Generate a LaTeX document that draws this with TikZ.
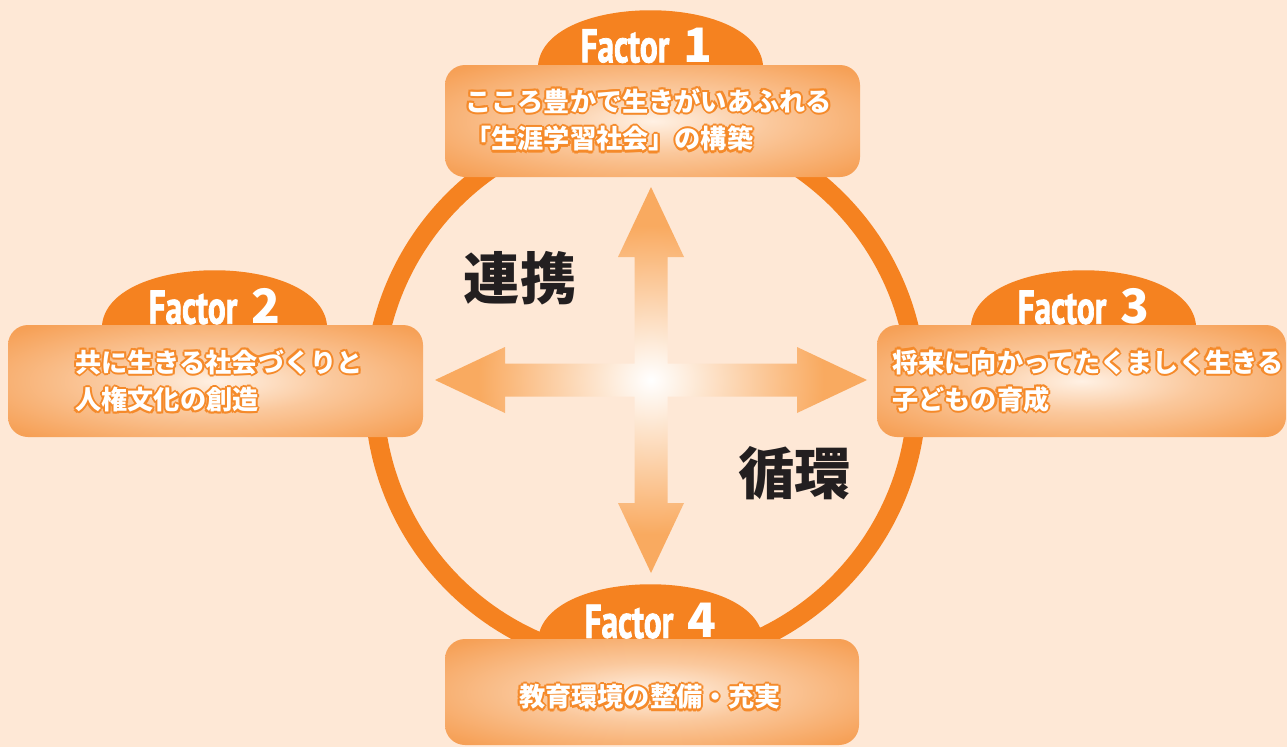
\documentclass[tikz,border=0pt]{standalone}
\usepackage{fontspec}
\newfontfamily\cjk{Noto Sans CJK JP}
\newfontfamily\latinfont{PT Sans}[FakeStretch=0.7, FakeBold=1.5]

\definecolor{paper}{HTML}{FEE8D6}
\definecolor{ringOrange}{HTML}{F58220}
\definecolor{arrowOrange}{HTML}{F9AA60}
\definecolor{boxOrange}{HTML}{F6A056}
\definecolor{boxLight}{HTML}{FFF1E4}
\definecolor{rimOrange}{HTML}{F58A2A}
\definecolor{inkBlack}{HTML}{231F20}
\colorlet{crossMid}{white!85!arrowOrange}
\colorlet{boxMid}{boxLight!50!boxOrange}

\pgfdeclareradialshading{crossglow}{\pgfpoint{0bp}{0bp}}{color(0bp)=(white); color(3bp)=(crossMid); color(20bp)=(arrowOrange); color(50bp)=(arrowOrange)}
\pgfdeclareradialshading{boxglow}{\pgfpoint{0bp}{0bp}}{color(0bp)=(boxLight); color(14bp)=(boxMid); color(33bp)=(boxOrange); color(50bp)=(boxOrange)}

% white text with an orange rim
\newcommand\rimcopy[2]{\rlap{\kern#1\raise#2\hbox{\color{rimOrange}\copy0}}}
\newcommand\rimtext[1]{\setbox0\hbox{#1}%
  \rimcopy{1.2pt}{0pt}\rimcopy{-1.2pt}{0pt}\rimcopy{0pt}{1.2pt}\rimcopy{0pt}{-1.2pt}%
  \rimcopy{.85pt}{.85pt}\rimcopy{-.85pt}{.85pt}\rimcopy{.85pt}{-.85pt}\rimcopy{-.85pt}{-.85pt}\copy0}
\newcommand\factorlabel[1]{{\latinfont\bfseries\fontsize{27}{30}\selectfont Factor}\hspace{8pt}{\cjk\bfseries\fontsize{27}{30}\selectfont #1}}

\tikzset{
  factorbox/.style={shading=boxglow, rounded corners=0.4cm},
  factortab/.style={fill=ringOrange},
  boxtext/.style={text=white, font=\cjk\bfseries\fontsize{14.9}{21.3}\selectfont, align=left, inner sep=0pt},
  tabtext/.style={text=white, inner sep=0pt},
  keyword/.style={text=inkBlack, font=\cjk\bfseries\fontsize{32}{36}\selectfont, inner sep=0pt}
}

\begin{document}
\begin{tikzpicture}[x=0.02cm, y=-0.02cm]

    \fill[paper] (0,0) rectangle (1287,747);
    \useasboundingbox (0,0) rectangle (1287,747);

    % ring
    \draw[ringOrange, line width=0.38cm] (645.5,392) circle [radius=271.5];

    % cross of arrows
    \shade[shading=crossglow] (651,187) -- (684,257) -- (667.5,257) -- (667.5,363.5) -- (797,363.5) -- (797,347)
        -- (867,380) -- (797,413) -- (797,396.5) -- (667.5,396.5) -- (667.5,503) -- (684,503)
        -- (651,573) -- (618,503) -- (634.5,503) -- (634.5,396.5) -- (505,396.5) -- (505,413)
        -- (435,380) -- (505,347) -- (505,363.5) -- (634.5,363.5) -- (634.5,257) -- (618,257) -- cycle;

    \node[keyword] (renkei) at (520,278.5) {連携};
    \node[keyword] (junkan) at (794.5,473.5) {循環};

    % tabs
    \foreach \cx/\ty in {650.5/65, 214.5/325, 1083.5/325, 650.5/639}
        \fill[factortab] (\cx-112.5,\ty+10) -- (\cx-112.5,\ty) .. controls (\cx-105,\ty-73) and (\cx+105,\ty-73) .. (\cx+112.5,\ty) -- (\cx+112.5,\ty+10) -- cycle;

    % boxes
    \shade[factorbox] (445,65) rectangle (860,177);
    \shade[factorbox] (8,325) rectangle (423,437);
    \shade[factorbox] (877,325) rectangle (1286,437);
    \shade[factorbox] (445,639) rectangle (859,745);

    \node[tabtext] (tab1) at (646.5,45.5) {\factorlabel{1}};
    \node[tabtext] (tab2) at (214.5,306.5) {\factorlabel{2}};
    \node[tabtext] (tab3) at (1083.5,306.5) {\factorlabel{3}};
    \node[tabtext] (tab4) at (650.5,621) {\factorlabel{4}};

    \node[boxtext, anchor=west] (goal1) at (465,120) {\rimtext{こころ豊かで生きがいあふれる}\\\rimtext{「生涯学習社会」の構築}};
    \node[boxtext, anchor=west] (goal2) at (75,381) {\rimtext{共に生きる社会づくりと}\\\rimtext{人権文化の創造}};
    \node[boxtext, anchor=west] (goal3) at (892,381) {\rimtext{将来に向かってたくましく生きる}\\\rimtext{子どもの育成}};
    \node[boxtext] (goal4) at (650,697) {\rimtext{教育環境の整備・充実}};

\end{tikzpicture}
\end{document}
